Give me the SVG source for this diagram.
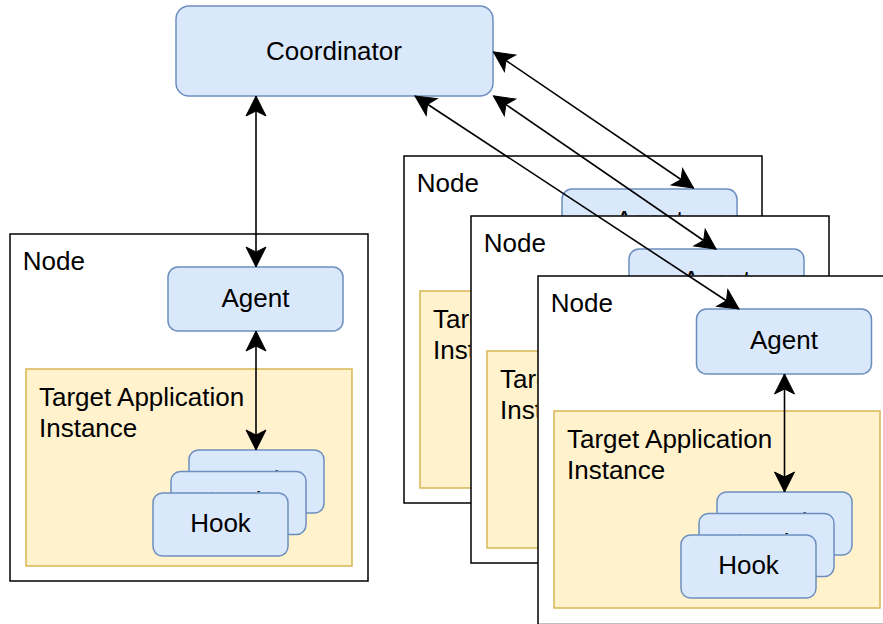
<svg xmlns="http://www.w3.org/2000/svg" width="883" height="624" viewBox="0 0 883 624">
  <style>
    .frame { fill: #ffffff; stroke: #000000; stroke-width: 1.5; }
    .blue { fill: #dae8fc; stroke: #6c8ebf; stroke-width: 1.5; }
    .app { fill: #fff2cc; stroke: #d6b656; stroke-width: 1.5; }
    text { font-family: "Liberation Sans", Arial, Helvetica, sans-serif; font-size: 26px; fill: #000000; }
    .mid { text-anchor: middle; }
    .link { fill: none; stroke: #000000; stroke-width: 1.6; marker-start: url(#arrow); marker-end: url(#arrow); }
  </style>
  <defs>
    <marker id="arrow" markerUnits="userSpaceOnUse" viewBox="-22 -12 24 24" markerWidth="24" markerHeight="24" refX="0" refY="0" orient="auto-start-reverse" overflow="visible">
      <path d="M0,0 L-20,-10 L-15,0 L-20,10 Z" fill="#000000" stroke="#000000" stroke-width="1"/>
    </marker>
    <rect id="hook-card" width="135" height="63" rx="9.5" class="blue"/>
    <!-- clip regions, in node-local coordinates, for labels that the next card or frame covers -->
    <clipPath id="clip-top-strip" clipPathUnits="userSpaceOnUse">
      <rect x="0" y="0" width="358" height="59.2"/>
    </clipPath>
    <clipPath id="clip-left-strip" clipPathUnits="userSpaceOnUse">
      <rect x="0" y="0" width="66.2" height="347"/>
    </clipPath>
    <clipPath id="clip-hook-back" clipPathUnits="userSpaceOnUse">
      <rect x="179" y="216" width="135" height="20.8"/>
    </clipPath>
    <clipPath id="clip-hook-middle" clipPathUnits="userSpaceOnUse">
      <rect x="161" y="237.5" width="135" height="20.8"/>
    </clipPath>
  </defs>

  <!-- Coordinator -->
  <g id="coordinator">
    <rect x="176" y="6" width="317" height="90" rx="13" class="blue"/>
    <text x="334" y="60" class="mid">Coordinator</text>
  </g>

  <!-- Node 1 (left) -->
  <g id="node-1" transform="translate(10,234)">
    <rect width="358" height="347" class="frame"/>
    <text x="12.7" y="36">Node</text>
    <g id="agent-1">
      <rect x="158" y="33" width="175" height="64" rx="10" class="blue"/>
      <text x="245.5" y="72.5" class="mid">Agent</text>
    </g>
    <g id="app-1">
      <rect x="16" y="135" width="326" height="197" class="app"/>
      <text x="29" y="172">Target Application</text>
      <text x="29" y="203">Instance</text>
    </g>
    <g id="hooks-1">
      <use href="#hook-card" x="179" y="216"/>
      <text x="246.5" y="254.7" class="mid" clip-path="url(#clip-hook-back)">Hook</text>
      <use href="#hook-card" x="161" y="237.5"/>
      <text x="228.5" y="276.2" class="mid" clip-path="url(#clip-hook-middle)">Hook</text>
      <use href="#hook-card" x="143" y="259"/>
      <text x="210.5" y="297.7" class="mid">Hook</text>
    </g>
  </g>

  <!-- Node 2 (back of the stack) -->
  <g id="node-2" transform="translate(404,156)">
    <rect width="358" height="347" class="frame"/>
    <text x="12.7" y="36">Node</text>
    <g id="agent-2">
      <rect x="158" y="33" width="175" height="64" rx="10" class="blue"/>
      <text x="245.5" y="72.5" class="mid" clip-path="url(#clip-top-strip)">Agent</text>
    </g>
    <g id="app-2">
      <rect x="16" y="135" width="326" height="197" class="app"/>
      <g clip-path="url(#clip-left-strip)">
        <text x="29" y="172">Target Application</text>
        <text x="29" y="203">Instance</text>
      </g>
    </g>
  </g>

  <!-- Node 3 (middle of the stack) -->
  <g id="node-3" transform="translate(471,216)">
    <rect width="358" height="347" class="frame"/>
    <text x="12.7" y="36">Node</text>
    <g id="agent-3">
      <rect x="158" y="33" width="175" height="64" rx="10" class="blue"/>
      <text x="245.5" y="72.5" class="mid" clip-path="url(#clip-top-strip)">Agent</text>
    </g>
    <g id="app-3">
      <rect x="16" y="135" width="326" height="197" class="app"/>
      <g clip-path="url(#clip-left-strip)">
        <text x="29" y="172">Target Application</text>
        <text x="29" y="203">Instance</text>
      </g>
    </g>
  </g>

  <!-- Node 4 (front of the stack) -->
  <g id="node-4" transform="translate(538,276)">
    <rect width="358" height="348.5" class="frame"/>
    <text x="12.7" y="36">Node</text>
    <g id="agent-4">
      <rect x="158.5" y="33" width="175" height="65" rx="10" class="blue"/>
      <text x="246" y="73" class="mid">Agent</text>
    </g>
    <g id="app-4">
      <rect x="16" y="135" width="326" height="197" class="app"/>
      <text x="29" y="172">Target Application</text>
      <text x="29" y="203">Instance</text>
    </g>
    <g id="hooks-4">
      <use href="#hook-card" x="179" y="216"/>
      <text x="246.5" y="254.7" class="mid" clip-path="url(#clip-hook-back)">Hook</text>
      <use href="#hook-card" x="161" y="237.5"/>
      <text x="228.5" y="276.2" class="mid" clip-path="url(#clip-hook-middle)">Hook</text>
      <use href="#hook-card" x="143" y="259"/>
      <text x="210.5" y="297.7" class="mid">Hook</text>
    </g>
  </g>

  <!-- Connectors -->
  <g id="connectors">
    <path class="link" d="M256,96 L256,267"/>
    <path class="link" d="M256,331 L256,450"/>
    <path class="link" d="M784.5,374 L784.5,492"/>
    <path class="link" d="M493.5,52 L693.5,188"/>
    <path class="link" d="M493.5,96 L716,249"/>
    <path class="link" d="M415,96 L739,309"/>
  </g>
</svg>
